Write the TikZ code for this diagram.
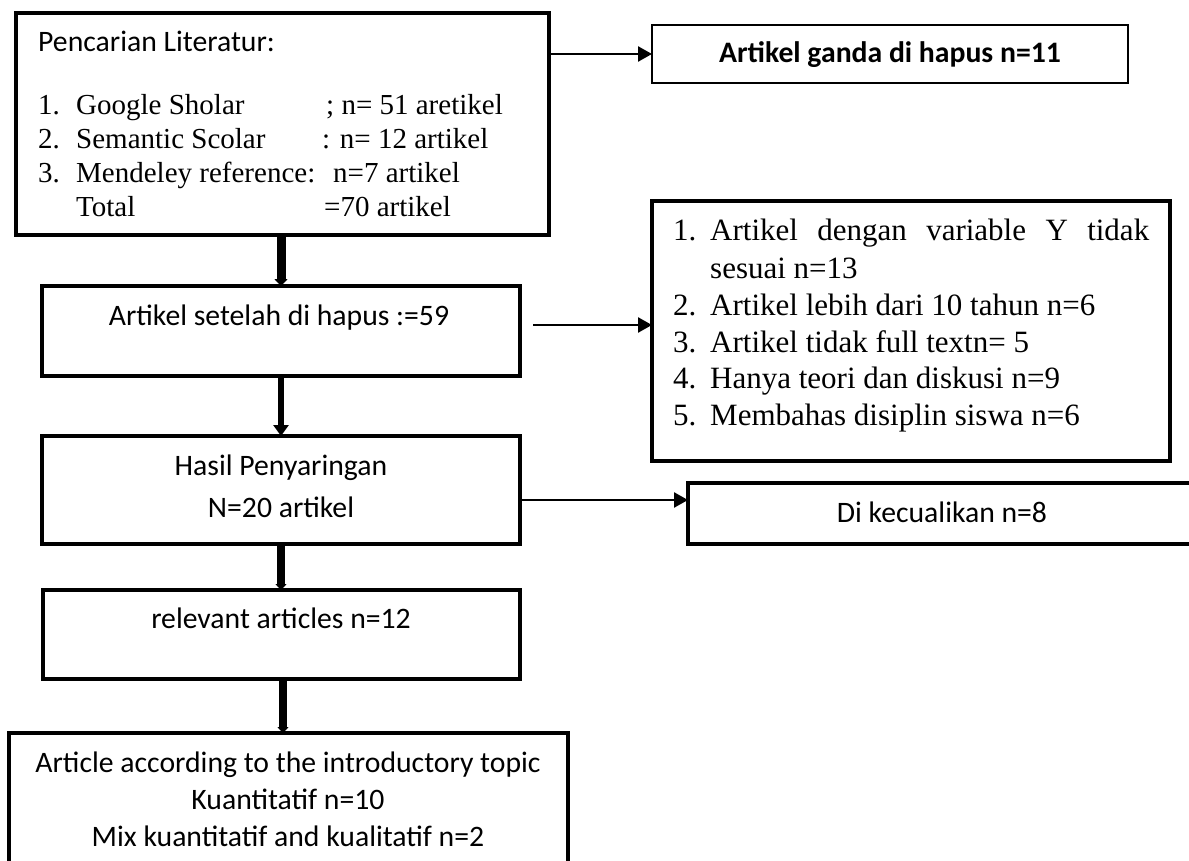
\documentclass[tikz,border=0pt]{standalone}
\usepackage{fontspec}
\setmainfont{Carlito}
\newfontfamily\serifface{Liberation Serif}
\usetikzlibrary{arrows.meta}
\tikzset{
  boxed/.style={draw, line width=3.5pt, inner sep=0pt, outer sep=0pt},
  thinbox/.style={draw, line width=2pt, inner sep=0pt, outer sep=0pt},
  sanstxt/.style={inner sep=0pt, font=\fontsize{29.7}{35}\selectfont},
  sertxt/.style={inner sep=0pt, anchor=base west, font=\serifface\fontsize{29}{35}\selectfont},
  sertxtb/.style={inner sep=0pt, anchor=base west, font=\serifface\fontsize{31}{37}\selectfont},
  thinarrow/.style={line width=2.5pt, -{Triangle[length=14pt,width=15pt]}},
}
\begin{document}
\begin{tikzpicture}[x=1pt,y=-1pt]
\useasboundingbox (0,0) rectangle (1189,861);
\fill[white] (0,0) rectangle (1189,861);
\clip (0,0) rectangle (1189,861);

% boxes
\node[boxed, line width=4pt, minimum width=533pt, minimum height=222pt] (b1) at (282.5,124) {};
\node[thinbox, minimum width=476pt, minimum height=58pt] (g) at (890,54) {};
\node[boxed, minimum width=518pt, minimum height=260pt] (b6) at (911,331) {};
\node[boxed, minimum width=478pt, minimum height=90pt] (b2) at (281,331) {};
\node[boxed, minimum width=478pt, minimum height=108pt] (b3) at (281,490) {};
\node[boxed, minimum width=572pt, minimum height=61pt] (b7) at (974,513.5) {};
\node[boxed, minimum width=477pt, minimum height=89pt] (b4) at (281.5,634.5) {};
\node[boxed, minimum width=559pt, minimum height=186pt] (b5) at (288.5,826) {};

% box 1 text
\node[sanstxt, anchor=base west] (p0) at (38,52) {Pencarian Literatur:};
\node[sertxt] (p1n) at (38,115) {1.};
\node[sertxt] (p1a) at (76,115) {Google Sholar};
\node[sertxt] (p1b) at (326,115) {; n= 51 aretikel};
\node[sertxt] (p2n) at (38,149) {2.};
\node[sertxt] (p2a) at (76,149) {Semantic Scolar};
\node[sertxt] (p2b) at (322,149) {: n= 12 artikel};
\node[sertxt] (p3n) at (38,183) {3.};
\node[sertxt] (p3a) at (76,183) {Mendeley reference:};
\node[sertxt] (p3b) at (333,183) {n=7 artikel};
\node[sertxt] (p4a) at (76,217) {Total};
\node[sertxt] (p4b) at (324,217) {=70 artikel};

% ganda
\node[sanstxt, anchor=base, font=\bfseries\fontsize{29.7}{35}\selectfont] (gt) at (890,63) {Artikel ganda di hapus n=11};

% box 6 list
\node[sertxtb] (q1n) at (673,241) {1.};
\node[sertxtb] (q1a) at (710,241) {\makebox[439pt][s]{Artikel dengan variable Y tidak}};
\node[sertxtb] (q1b) at (710,278) {sesuai n=13};
\node[sertxtb] (q2n) at (673,315) {2.};
\node[sertxtb] (q2a) at (710,315) {Artikel lebih dari 10 tahun n=6};
\node[sertxtb] (q3n) at (673,352) {3.};
\node[sertxtb] (q3a) at (710,352) {Artikel tidak full textn= 5};
\node[sertxtb] (q4n) at (673,388) {4.};
\node[sertxtb] (q4a) at (710,388) {Hanya teori dan diskusi n=9};
\node[sertxtb] (q5n) at (673,425) {5.};
\node[sertxtb] (q5a) at (710,425) {Membahas disiplin siswa n=6};

% centred sans texts
\node[sanstxt, anchor=base] (t2) at (279,325) {Artikel setelah di hapus :=59};
\node[sanstxt, anchor=base] (t3a) at (281,475) {Hasil Penyaringan};
\node[sanstxt, anchor=base] (t3b) at (281,517) {N=20 artikel};
\node[sanstxt, anchor=base] (t7) at (942,522) {Di kecualikan n=8};
\node[sanstxt, anchor=base] (t4) at (281,628) {relevant articles n=12};
\node[sanstxt, anchor=base] (t5a) at (288,772) {Article according to the introductory topic};
\node[sanstxt, anchor=base] (t5b) at (288,809) {Kuantitatif n=10};
\node[sanstxt, anchor=base] (t5c) at (288,846) {Mix kuantitatif and kualitatif n=2};

% horizontal arrows
\coordinate (aB) at (533,325);
\coordinate (aC) at (521,500);
\draw[thinarrow] (b1.east |- g.west) -- (g.west);
\draw[thinarrow] (aB) -- (b6.west |- aB);
\draw[thinarrow] (aC) -- (b7.west |- aC);

% vertical arrows
\coordinate (v4) at (283,680);
\draw[line width=9pt, -{Triangle[length=7pt,width=13pt]}] (b2.north |- b1.south) -- (b2.north);
\draw[line width=6pt, -{Triangle[length=11pt,width=15pt]}] (b2.south) -- (b3.north);
\draw[line width=8pt, -{Triangle[length=6pt,width=11pt]}] (b3.south) -- (b3.south |- b4.north);
\draw[line width=8pt, -{Triangle[length=6pt,width=11pt]}] (b4.south -| v4) -- (v4 |- b5.north);
\end{tikzpicture}
\end{document}
